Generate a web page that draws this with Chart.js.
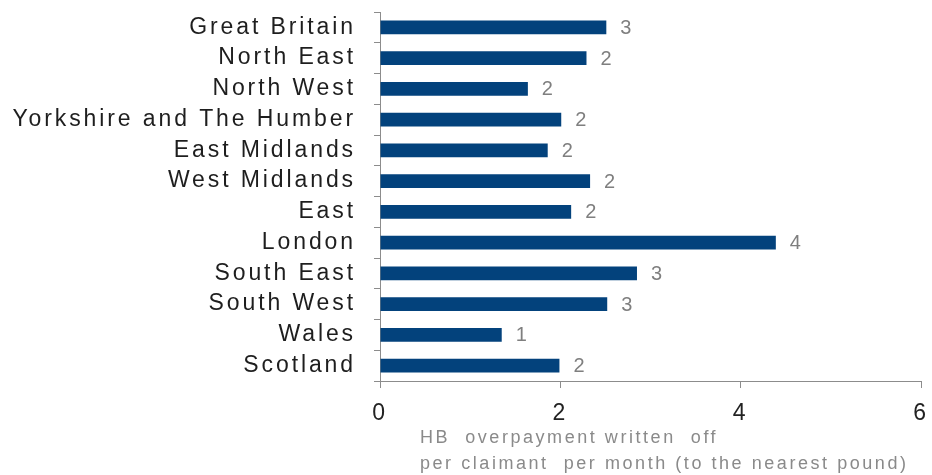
<!DOCTYPE html>
<html>
<head>
<meta charset="utf-8">
<script src="https://cdn.jsdelivr.net/npm/chart.js@4/dist/chart.umd.min.js"></script>
<style>
  html, body { margin: 0; padding: 0; background: #fff; }
  #wrap { width: 932px; height: 475px; position: relative; }
</style>
</head>
<body>
<div id="wrap"><canvas id="grafico"></canvas></div>
<script>
// regioes e valor medio abatido por requerente por mes (libras)
var regioes = ['Great Britain', 'North East', 'North West', 'Yorkshire and The Humber',
  'East Midlands', 'West Midlands', 'East', 'London', 'South East', 'South West',
  'Wales', 'Scotland'];
var valores = [2.51, 2.29, 1.64, 2.01, 1.86, 2.33, 2.12, 4.39, 2.85, 2.52, 1.35, 1.99];
var ticksX = [0, 2, 4, 6];
var tituloEixo = ['HB  overpayment written  off', 'per claimant  per month (to the nearest pound)'];

var corBarra = '#03427c';
var cinza = '#8c8c8c';
var fonte = '"Liberation Sans", Arial, sans-serif';

// espacamento entre letras para os rotulos do eixo
var espacamento = {
  id: 'espacamento',
  beforeDraw: function (chart) {
    chart.ctx.letterSpacing = '2.9px';
  }
};

// rotulos de valor arredondados ao lado de cada barra
var rotulosValor = {
  id: 'rotulosValor',
  afterDatasetsDraw: function (chart) {
    var ctx = chart.ctx;
    var meta = chart.getDatasetMeta(0);
    ctx.save();
    ctx.letterSpacing = '0px';
    ctx.font = '20px ' + fonte;
    ctx.fillStyle = '#7f7f7f';
    ctx.textAlign = 'left';
    ctx.textBaseline = 'middle';
    meta.data.forEach(function (barra, i) {
      ctx.fillText(String(Math.round(valores[i])), barra.x + 14, barra.y + 1);
    });
    ctx.restore();
  }
};

// titulo do eixo x em duas linhas, alinhado a esquerda
var tituloX = {
  id: 'tituloX',
  afterDraw: function (chart) {
    var ctx = chart.ctx;
    var x = chart.scales.x;
    ctx.save();
    ctx.letterSpacing = '2.55px';
    ctx.font = '18px ' + fonte;
    ctx.fillStyle = '#8a8a8a';
    ctx.textAlign = 'left';
    ctx.textBaseline = 'middle';
    ctx.fillText(tituloEixo[0], x.left + 40, 438);
    ctx.fillText(tituloEixo[1], x.left + 40, 464);
    ctx.restore();
  }
};

new Chart(document.getElementById('grafico'), {
  type: 'bar',
  data: {
    labels: regioes,
    datasets: [{
      data: valores,
      backgroundColor: corBarra,
      barPercentage: 0.455,
      categoryPercentage: 1
    }]
  },
  options: {
    indexAxis: 'y',
    responsive: true,
    maintainAspectRatio: false,
    animation: false,
    layout: { padding: { top: 12, right: 11, bottom: 0, left: 0 } },
    plugins: {
      legend: { display: false },
      tooltip: { enabled: false }
    },
    scales: {
      x: {
        min: 0,
        max: 6,
        afterBuildTicks: function (eixo) {
          eixo.ticks = ticksX.map(function (v) { return { value: v }; });
        },
        afterFit: function (eixo) {
          eixo.height = 94;
          eixo.paddingLeft = 0;
          eixo.paddingRight = 0;
        },
        border: { color: cinza, width: 1 },
        grid: { drawOnChartArea: false, drawTicks: true, tickLength: 7, color: cinza },
        ticks: {
          color: '#222',
          font: { family: fonte, size: 23 },
          padding: 12,
          maxRotation: 0
        }
      },
      y: {
        afterFit: function (eixo) {
          eixo.width = 380;
          eixo.paddingTop = 0;
          eixo.paddingBottom = 0;
        },
        border: { color: cinza, width: 1 },
        grid: { drawOnChartArea: false, drawTicks: true, tickLength: 6, color: cinza, offset: true },
        ticks: {
          color: '#1e1e1e',
          font: { family: fonte, size: 23 },
          padding: 18,
          autoSkip: false
        }
      }
    }
  },
  plugins: [espacamento, rotulosValor, tituloX]
});
</script>
</body>
</html>
